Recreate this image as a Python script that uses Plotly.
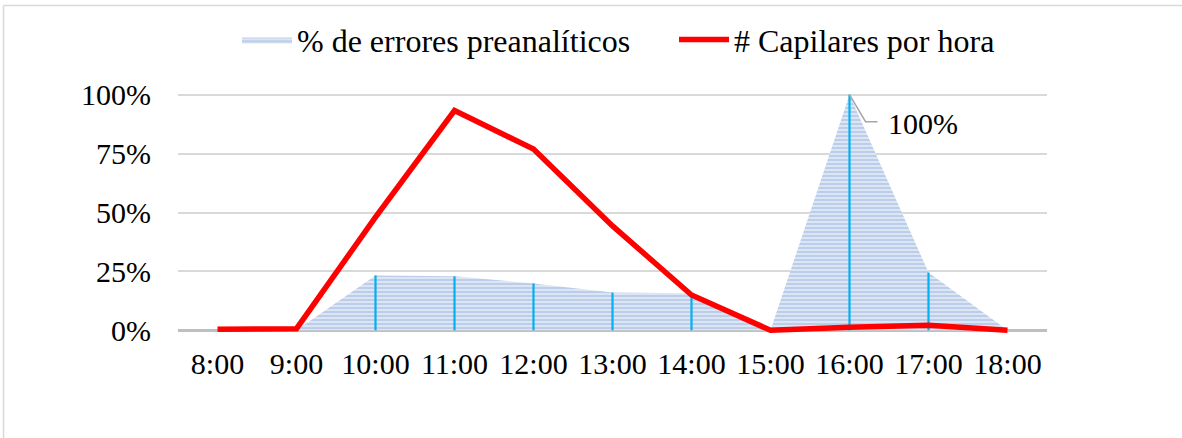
import plotly.graph_objects as go

# Hourly data
horas = ["8:00", "9:00", "10:00", "11:00", "12:00", "13:00", "14:00",
         "15:00", "16:00", "17:00", "18:00"]
errores = [0.0, 0.0, 0.233, 0.229, 0.199, 0.16, 0.157, 0.0, 1.0, 0.245, 0.0]
capilares = [0.004, 0.007, 0.48, 0.933, 0.769, 0.443, 0.15, 0.0, 0.013, 0.021, 0.0]
y_ticks = [0, 0.25, 0.5, 0.75, 1.0]
y_labels = ["0%", "25%", "50%", "75%", "100%"]

FONT = "Liberation Serif"
TICK_SIZE = 30
LEGEND_SIZE = 32
W, H = 1182, 438
L, R = 178, 1182 - 1047
Y0, Y1 = -0.02, 1.02
PX_PER_UNIT = 235
PLOT_BOTTOM = 330 + 0.02 * PX_PER_UNIT
PLOT_TOP = 95 - 0.02 * PX_PER_UNIT
plot_h = PLOT_BOTTOM - PLOT_TOP
plot_w = W - L - R

fig = go.Figure()

# Striped area for the error percentage
fig.add_trace(go.Scatter(
    x=horas, y=errores, name="% de errores preanalíticos",
    mode="lines", line=dict(width=0, color="#b7cbe8"),
    fill="tozeroy", fillcolor="#d6e1f2",
    fillpattern=dict(shape="-", fgcolor="#9db6de", bgcolor="#dbe5f4",
                     size=4, solidity=0.5),
    legend="legend",
))

# Drop lines from the axis up to each error value
dx, dy = [], []
for h, v in zip(horas, errores):
    if v > 0:
        dx += [h, h, None]
        dy += [0, v, None]
fig.add_trace(go.Scatter(
    x=dx, y=dy, mode="lines", line=dict(color="#00b0f0", width=2.2),
    showlegend=False, hoverinfo="skip",
))

# Capillaries per hour
fig.add_trace(go.Scatter(
    x=horas, y=capilares, name="# Capilares por hora",
    mode="lines", line=dict(color="#ff0000", width=5.5),
    legend="legend2",
))

# Data label for the peak value with elbow leader line
peak_i = errores.index(max(errores))
fig.add_shape(
    type="path", xref="x", yref="y", xsizemode="pixel", ysizemode="pixel",
    xanchor=peak_i, yanchor=errores[peak_i],
    path="M0,0 L16,-27 L28,-27", line=dict(color="#a6a6a6", width=1.5),
)
fig.add_annotation(
    x=horas[peak_i], y=errores[peak_i], text=f"{errores[peak_i]:.0%}",
    showarrow=False, xanchor="left", yanchor="middle",
    xshift=36, yshift=-29, font=dict(family=FONT, size=TICK_SIZE, color="#000000"),
)

# Chart frame (top and left edges)
fig.add_shape(type="line", xref="paper", yref="paper",
              x0=(3.5 - L) / plot_w, x1=(W + 5 - L) / plot_w,
              y0=(PLOT_BOTTOM - 6) / plot_h, y1=(PLOT_BOTTOM - 6) / plot_h,
              line=dict(color="#d9d9d9", width=1.5))
fig.add_shape(type="line", xref="paper", yref="paper",
              x0=(3.5 - L) / plot_w, x1=(3.5 - L) / plot_w,
              y0=(PLOT_BOTTOM - 6) / plot_h, y1=(PLOT_BOTTOM - H - 5) / plot_h,
              line=dict(color="#d9d9d9", width=1.5))

legend_style = dict(orientation="h", yanchor="middle", xanchor="left",
                    y=(PLOT_BOTTOM - 40) / plot_h,
                    font=dict(family=FONT, size=LEGEND_SIZE), itemwidth=50,
                    bgcolor="rgba(0,0,0,0)")

fig.update_layout(
    width=W, height=H,
    margin=dict(l=L, r=R, t=PLOT_TOP, b=H - PLOT_BOTTOM, pad=0),
    paper_bgcolor="#ffffff", plot_bgcolor="#ffffff",
    font=dict(family=FONT, size=TICK_SIZE, color="#000000"),
    showlegend=True,
    legend=dict(legend_style, x=(237 - L) / plot_w),
    legend2=dict(legend_style, x=(674 - L) / plot_w),
    xaxis=dict(type="category", range=[-0.5, len(horas) - 0.5],
               showgrid=False, zeroline=False, showline=False,
               ticks="", ticklabelstandoff=8,
               tickfont=dict(family=FONT, size=TICK_SIZE)),
    yaxis=dict(range=[Y0, Y1], tickvals=y_ticks, ticktext=y_labels,
               showgrid=True, gridcolor="#d9d9d9", gridwidth=1.5,
               zeroline=True, zerolinecolor="#bfbfbf", zerolinewidth=3,
               showline=False, ticks="", ticklabelstandoff=26,
               tickfont=dict(family=FONT, size=TICK_SIZE)),
)

fig.write_html("out.html")
